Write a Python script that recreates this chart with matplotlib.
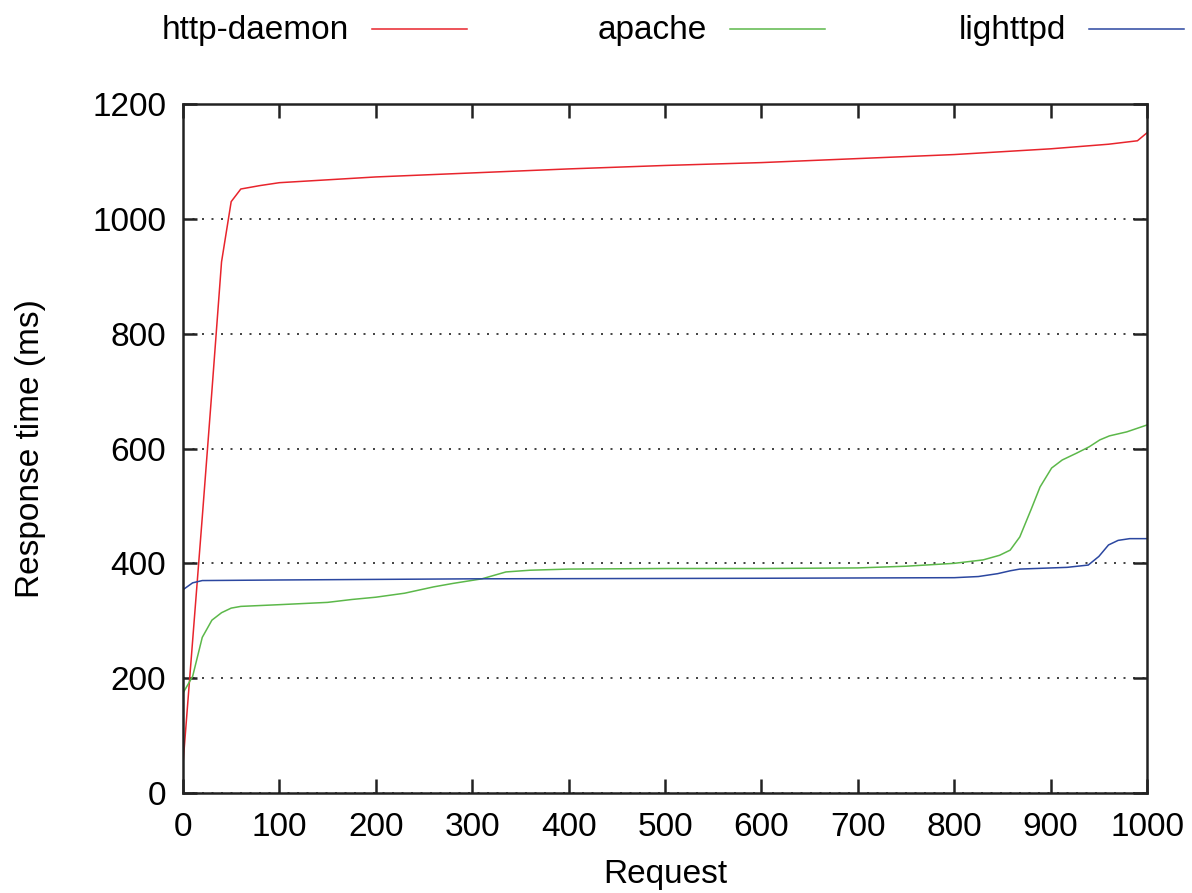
import matplotlib
matplotlib.use("Agg")
import matplotlib.pyplot as plt
from matplotlib.lines import Line2D

plt.rcParams['font.family'] = ['Liberation Sans', 'DejaVu Sans']

# response time per request
daemon_x = [0, 10, 20, 30, 40, 50, 60, 80, 100, 150, 200, 300, 400, 500, 600, 700, 800, 900, 960, 990, 1000]
daemon_y = [50, 265, 480, 700, 925, 1030, 1052, 1058, 1063, 1068, 1073, 1080, 1087, 1093, 1098, 1105, 1112, 1122, 1130, 1136, 1150]

apache_x = [0, 10, 20, 30, 40, 50, 60, 100, 150, 175, 200, 230, 260, 280, 310, 335, 360, 400, 500, 600, 700, 750, 800,
            830, 847, 858, 868, 880, 889, 901, 912, 927, 940, 951, 961, 979, 1000]
apache_y = [174, 203, 271, 301, 314, 322, 325, 328, 332, 337, 341, 348, 359, 365, 373, 385, 388, 390, 391, 391, 392, 395, 400,
            406, 414, 423, 446, 495, 533, 566, 580, 592, 603, 615, 622, 629, 641]

lighttpd_x = [0, 10, 20, 100, 300, 600, 800, 825, 845, 858, 868, 917, 939, 950, 960, 970, 982, 1000]
lighttpd_y = [354, 366, 370, 371, 373, 374, 375, 377, 382, 387, 390, 393, 397, 412, 432, 440, 443, 443]

labels = ['http-daemon', 'apache', 'lighttpd']
colors = ['#e8242c', '#5cb84a', '#2b47a0']

fig = plt.figure(figsize=(11.92, 8.93), dpi=100)
ax = fig.add_axes([0.1535, 0.112, 0.8088, 0.7715])

ax.plot(daemon_x, daemon_y, color=colors[0], lw=1.1)
ax.plot(apache_x, apache_y, color=colors[1], lw=1.1)
ax.plot(lighttpd_x, lighttpd_y, color=colors[2], lw=1.1)

ax.set_xlim(0, 1000)
ax.set_ylim(0, 1200)
ax.set_xticks(range(0, 1001, 100))
ax.set_yticks(range(0, 1201, 200))
ax.yaxis.grid(True, linestyle=(0, (1.2, 4.5)), color='#222222', lw=1.2)
ax.set_axisbelow(True)
ax.tick_params(direction='in', length=10, width=1.8, labelsize=24, top=True, right=True, color='#222222')
ax.tick_params(axis='x', pad=14)
ax.tick_params(axis='y', pad=12)
for s in ax.spines.values():
    s.set_linewidth(1.8)
    s.set_color('#222222')

ax.set_xlabel('Request', fontsize=24, labelpad=11)
ax.set_ylabel('Response time (ms)', fontsize=24, labelpad=33)

# legend across the top, text then sample line
text_right = [349, 707, 1066]
for lab, col, xr in zip(labels, colors, text_right):
    fig.text(xr / 1192, 1 - 30 / 893, lab, ha='right', va='center', fontsize=24)
    fig.add_artist(Line2D([(xr + 23) / 1192, (xr + 118) / 1192], [1 - 29 / 893] * 2,
                          color=col, lw=1.1, transform=fig.transFigure))

fig.savefig('out.png', dpi=100)
